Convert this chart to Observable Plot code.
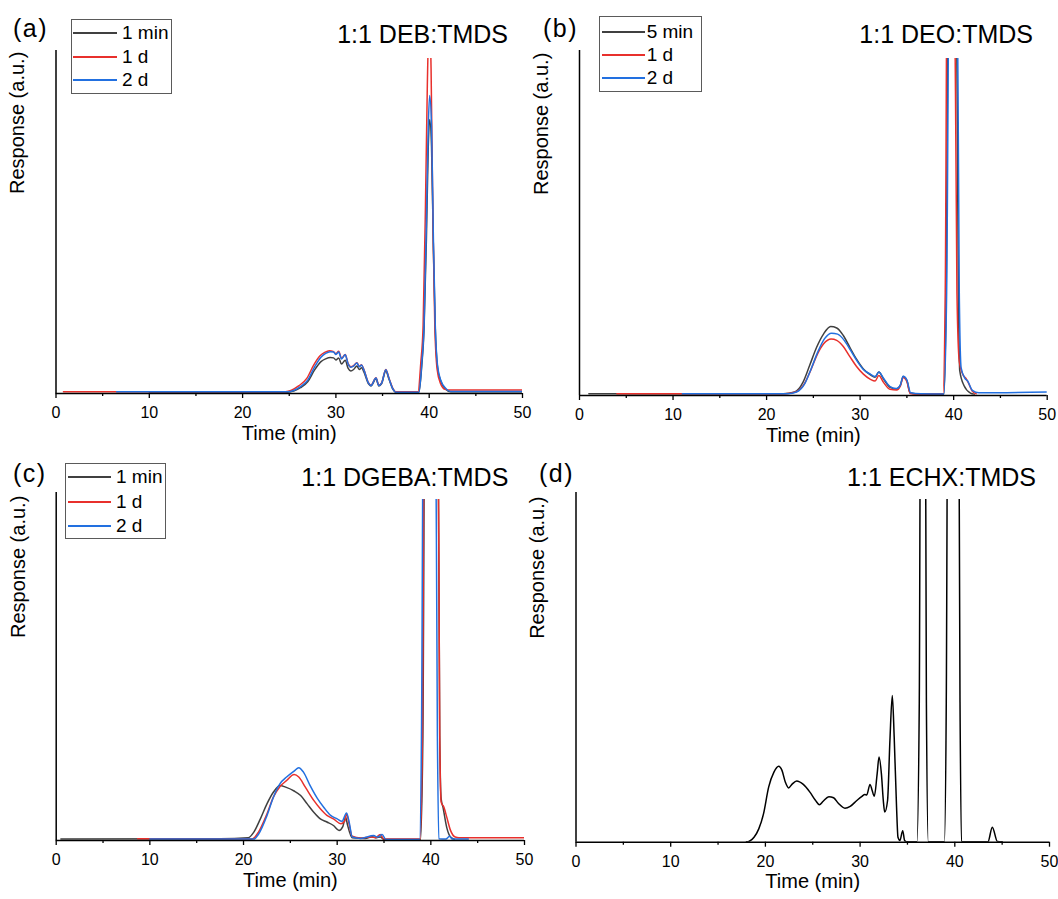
<!DOCTYPE html>
<html><head><meta charset="utf-8">
<script src="https://cdn.jsdelivr.net/npm/d3@7"></script>
<script src="https://cdn.jsdelivr.net/npm/@observablehq/plot@0.6"></script>
<style>
body{margin:0;background:#fff;font-family:"Liberation Sans",Arial,sans-serif;}
#root{position:relative;width:1058px;height:899px;overflow:hidden;background:#fff;}
.panel{position:absolute;}
.lab{position:absolute;white-space:nowrap;line-height:1;color:#000;}
.legbox{position:absolute;border:1px solid #5a5a5a;box-sizing:border-box;background:#fff;}
.sw{position:absolute;height:2px;}
</style></head><body><div id="root"></div>
<script>
// ---- tick values ----
const majorTicks = [0, 10, 20, 30, 40, 50];
const minorTicks = [5, 15, 25, 35, 45];

// ---- panel texts ----
const panelLetters = ["(a)", "(b)", "(c)", "(d)"];
const panelTitles = ["1:1 DEB:TMDS", "1:1 DEO:TMDS", "1:1 DGEBA:TMDS", "1:1 ECHX:TMDS"];
const legendA = ["1 min", "1 d", "2 d"];
const legendB = ["5 min", "1 d", "2 d"];
const legendC = ["1 min", "1 d", "2 d"];
const xTitle = "Time (min)";
const yTitle = "Response (a.u.)";
const seriesColors = ["#404040", "#e8302c", "#2270e0"];

// ---- (a) 1:1 DEB:TMDS  [time (min), relative response] ----
const debMin1 = [[10,0.004],[24.8,0.004],[26.2,0.017],[27,0.035],[27.7,0.068],[28.4,0.093],[28.9,0.101],[29.4,0.105],[29.75,0.104],[30.0,0.098],[30.3,0.104],[30.6,0.086],[31.0,0.097],[31.3,0.074],[31.6,0.066],[31.9,0.07],[32.25,0.08],[32.5,0.07],[32.75,0.075],[33.0,0.063],[33.5,0.028],[33.75,0.022],[34.3,0.043],[34.6,0.022],[34.9,0.029],[35.35,0.066],[35.7,0.041],[36.1,0.013],[36.4,0.004],[38.9,0.004],[39.2,0.08],[39.45,0.19],[39.7,0.45],[39.9,0.72],[40.05,0.8],[40.25,0.72],[40.45,0.42],[40.65,0.19],[40.9,0.075],[41.25,0.035],[41.8,0.012],[42.3,0.005],[50,0.005]];
const debDay1 = [[0.8,0.005],[24.6,0.005],[26.0,0.022],[26.9,0.045],[27.6,0.082],[28.3,0.11],[28.8,0.12],[29.3,0.125],[29.7,0.123],[30.0,0.116],[30.3,0.123],[30.6,0.103],[31.0,0.114],[31.3,0.088],[31.6,0.078],[31.9,0.081],[32.25,0.09],[32.5,0.079],[32.75,0.084],[33.0,0.07],[33.5,0.031],[33.75,0.024],[34.3,0.046],[34.6,0.024],[34.9,0.031],[35.35,0.07],[35.7,0.044],[36.1,0.015],[36.4,0.005],[38.8,0.005],[39.1,0.09],[39.35,0.2],[39.6,0.55],[39.8,0.9],[40.0,1.1],[40.2,0.95],[40.4,0.5],[40.6,0.2],[40.85,0.07],[41.2,0.03],[41.7,0.012],[42.2,0.01],[50,0.01]];
const debDay2 = [[6.5,0.005],[24.8,0.005],[26.2,0.02],[27,0.04],[27.7,0.077],[28.4,0.106],[28.9,0.117],[29.4,0.122],[29.75,0.121],[30.0,0.114],[30.3,0.121],[30.6,0.101],[31.0,0.113],[31.3,0.087],[31.6,0.077],[31.9,0.08],[32.25,0.089],[32.5,0.078],[32.75,0.083],[33.0,0.069],[33.5,0.03],[33.75,0.023],[34.3,0.045],[34.6,0.023],[34.9,0.03],[35.35,0.069],[35.7,0.043],[36.1,0.014],[36.4,0.004],[38.9,0.004],[39.2,0.087],[39.45,0.2],[39.7,0.5],[39.9,0.78],[40.05,0.87],[40.25,0.78],[40.45,0.45],[40.65,0.2],[40.9,0.08],[41.25,0.038],[41.8,0.014],[42.3,0.006],[50,0.006]];

// ---- (b) 1:1 DEO:TMDS ----
const deoMin5 = [[1,0.005],[21.8,0.005],[23.0,0.01],[23.9,0.039],[24.6,0.087],[25.35,0.14],[26.1,0.179],[26.85,0.2],[27.5,0.196],[28.2,0.174],[28.9,0.14],[29.6,0.106],[30.35,0.077],[31.1,0.06],[31.6,0.053],[32.0,0.068],[32.5,0.048],[33.2,0.024],[33.9,0.019],[34.3,0.03],[34.6,0.055],[35.0,0.043],[35.35,0.007],[36.4,0.004],[38.95,0.004],[39.2,0.3],[39.5,1.5],[40.2,1.5],[40.5,0.3],[40.65,0.072],[41.1,0.029],[41.8,0.007],[42.2,0.004]];
const deoDay1 = [[4,0.005],[22,0.005],[23.1,0.01],[24.0,0.032],[24.7,0.072],[25.4,0.118],[26.1,0.15],[26.9,0.164],[27.5,0.16],[28.2,0.142],[28.9,0.113],[29.6,0.085],[30.35,0.062],[31.1,0.047],[31.6,0.042],[32.0,0.058],[32.5,0.038],[33.2,0.018],[33.9,0.016],[34.3,0.027],[34.6,0.052],[35.0,0.04],[35.35,0.006],[36.0,0.004],[38.85,0.004],[39.1,0.3],[39.35,1.5],[40.0,1.5],[40.35,0.3],[40.6,0.1],[41.0,0.06],[41.3,0.05],[41.6,0.035],[42.0,0.012],[42.4,0.005]];
const deoDay2 = [[11,0.005],[22.3,0.005],[23.2,0.01],[24.1,0.035],[24.8,0.08],[25.5,0.128],[26.2,0.165],[26.95,0.181],[27.6,0.178],[28.3,0.16],[29.0,0.13],[29.7,0.099],[30.4,0.074],[31.1,0.062],[31.6,0.055],[32.0,0.068],[32.5,0.05],[33.2,0.026],[33.9,0.02],[34.3,0.03],[34.6,0.056],[35.0,0.045],[35.4,0.008],[36.5,0.005],[38.95,0.004],[39.25,0.3],[39.6,1.5],[40.3,1.5],[40.6,0.3],[40.8,0.08],[41.2,0.05],[41.5,0.042],[42.0,0.015],[42.7,0.008],[50,0.01]];

// ---- (c) 1:1 DGEBA:TMDS ----
const dgebaMin1 = [[0.5,0.004],[17.5,0.005],[20.5,0.008],[21.1,0.024],[21.8,0.062],[22.5,0.105],[23.2,0.139],[23.9,0.158],[24.5,0.153],[25.4,0.142],[26.1,0.129],[26.8,0.105],[27.5,0.081],[28.2,0.062],[28.9,0.053],[29.6,0.043],[30.2,0.029],[30.6,0.04],[30.9,0.067],[31.1,0.045],[31.6,0.008],[33.0,0.006],[33.75,0.011],[34.2,0.008],[34.6,0.01],[35.0,0.003],[38.9,0.003],[39.15,0.3],[39.4,1.5],[40.7,1.5],[40.95,0.3],[41.1,0.12],[41.3,0.095],[41.7,0.037],[42.1,0.01],[42.5,0.004]];
const dgebaDay1 = [[8.7,0.005],[20.9,0.004],[21.6,0.024],[22.5,0.076],[23.2,0.125],[23.9,0.155],[24.6,0.172],[25.4,0.189],[25.9,0.182],[26.6,0.153],[27.5,0.115],[28.2,0.091],[28.9,0.072],[29.6,0.062],[30.4,0.048],[30.8,0.055],[31.0,0.077],[31.25,0.05],[31.6,0.012],[32.5,0.007],[33.6,0.01],[34.1,0.008],[34.6,0.017],[35.0,0.004],[38.85,0.004],[39.1,0.3],[39.35,1.5],[40.7,1.5],[40.95,0.3],[41.1,0.11],[41.4,0.095],[41.7,0.067],[42.1,0.029],[42.6,0.01],[43,0.008],[50,0.008]];
const dgebaDay2 = [[10,0.004],[21.1,0.004],[21.6,0.018],[22.5,0.071],[23.2,0.125],[23.9,0.163],[24.6,0.182],[25.4,0.199],[25.9,0.209],[26.4,0.196],[27.1,0.158],[27.9,0.12],[28.6,0.094],[29.3,0.072],[30.0,0.062],[30.5,0.055],[31.0,0.079],[31.3,0.05],[31.6,0.01],[32.5,0.006],[33.9,0.014],[34.3,0.01],[34.8,0.017],[35.2,0.003],[38.8,0.003],[39.0,0.3],[39.25,1.5],[40.45,1.5],[40.7,0.3],[40.85,0.005],[41.6,0.004],[42.0,0.012],[42.3,0.004],[44,0.004]];

// ---- (d) 1:1 ECHX:TMDS ----
const echx = [[18.0,0.001],[18.25,0.002],[18.8,0.014],[19.3,0.038],[19.8,0.081],[20.35,0.158],[20.9,0.2],[21.4,0.217],[21.75,0.205],[22.1,0.172],[22.45,0.155],[22.8,0.165],[23.3,0.175],[24.0,0.165],[24.7,0.143],[25.3,0.119],[25.7,0.107],[26.1,0.117],[26.7,0.13],[27.2,0.127],[27.7,0.111],[28.4,0.097],[28.95,0.102],[29.65,0.119],[30.2,0.131],[30.5,0.136],[30.7,0.135],[31.05,0.165],[31.25,0.15],[31.5,0.131],[31.8,0.195],[32.0,0.243],[32.25,0.195],[32.45,0.119],[32.6,0.086],[32.9,0.119],[33.15,0.291],[33.4,0.419],[33.6,0.3],[33.85,0.1],[34.0,0.014],[34.2,0.005],[34.5,0.033],[34.7,0.005],[34.9,0.001],[36.0,0.001],[36.25,0.4],[36.45,2],[36.8,2],[37.0,0.4],[37.2,0.001],[38.9,0.001],[39.1,0.4],[39.35,2],[40.3,2],[40.55,0.4],[40.7,0.001],[43.5,0.001],[43.96,0.043],[44.5,0.002],[45,0.001]];

// ---- layout (positions only) ----
const FONT = '"Liberation Sans", Arial, sans-serif';
const layouts = [
  {left:0,   top:0,   w:529, h:450, mt:58, mr:7,    mb:57,   ml:55.5, inset:-8},
  {left:529, top:0,   w:529, h:450, mt:58, mr:11.3, mb:55,   ml:50,   inset:-8},
  {left:0,   top:445, w:529, h:454, mt:54, mr:5,    mb:59,   ml:55.7, inset:-7},
  {left:529, top:445, w:529, h:454, mt:54, mr:9,    mb:57.3, ml:46.5, inset:-7}
];
const panelSeries = [
  [debMin1, debDay1, debDay2],
  [deoMin5, deoDay1, deoDay2],
  [dgebaMin1, dgebaDay1, dgebaDay2],
  [echx]
];

const root = document.getElementById("root");

function makePanel(i) {
  const L = layouts[i];
  const series = panelSeries[i];
  const colors = series.length === 1 ? ["#000"] : seriesColors;
  const marks = [
    ...series.map((data, k) => Plot.line(data, {
      x: d => d[0], y: d => d[1], stroke: colors[k], strokeWidth: 1.5,
      curve: "monotone-x", clip: true
    })),
    Plot.ruleX([0], {stroke: "#000", strokeWidth: 1.5, insetTop: L.inset}),
    Plot.ruleY([0], {stroke: "#000", strokeWidth: 1.5}),
    Plot.axisX({ticks: majorTicks, tickSize: 5, tickPadding: 8, label: null, strokeWidth: 1.3}),
    Plot.axisX({ticks: minorTicks, tickSize: 3, tickFormat: () => "", label: null, strokeWidth: 1.3}),
    Plot.text([xTitle], {text: d => d, frameAnchor: "bottom", dy: 46, fontSize: 20}),
    Plot.text([yTitle], {text: d => d, frameAnchor: "left", dx: -38, dy: -32, rotate: -90, fontSize: 20})
  ];
  const svg = Plot.plot({
    width: L.w, height: L.h,
    marginTop: L.mt, marginRight: L.mr, marginBottom: L.mb, marginLeft: L.ml,
    x: {domain: [0, 50]},
    y: {domain: [0, 0.978], axis: null},
    style: {fontFamily: FONT, fontSize: "16px", color: "#000", background: "transparent", overflow: "visible"},
    marks
  });
  const wrap = document.createElement("div");
  wrap.className = "panel";
  wrap.style.left = L.left + "px";
  wrap.style.top = L.top + "px";
  wrap.appendChild(svg);
  root.appendChild(wrap);
}
for (let i = 0; i < 4; i++) makePanel(i);

function addText(txt, css) {
  const d = document.createElement("div");
  d.className = "lab";
  d.textContent = txt;
  Object.assign(d.style, css);
  root.appendChild(d);
  return d;
}
// panel letters
const letterPos = [[13, 16.2], [543, 15.5], [13, 461.2], [539, 461.2]];
panelLetters.forEach((t, i) => addText(t, {left: letterPos[i][0] + "px", top: letterPos[i][1] + "px", fontSize: "25px", letterSpacing: "1.5px"}));
// titles (right aligned)
const titlePos = [[550, 22.2], [25, 21.6], [549.7, 464.6], [22, 464.6]];
panelTitles.forEach((t, i) => addText(t, {right: titlePos[i][0] + "px", top: titlePos[i][1] + "px", fontSize: "25px"}));

// legends
const legendBoxes = [
  {x: 71, y: 18.7, w: 101, h: 75.3, lx1: 73, lx2: 117, tx: 122, rows: [33.3, 57.3, 80], names: legendA},
  {x: 599.3, y: 16, w: 102.4, h: 75.7, lx1: 601.7, lx2: 645, tx: 646.7, rows: [31.7, 55, 78.3], names: legendB},
  {x: 65.3, y: 463.3, w: 100.7, h: 75.7, lx1: 67.7, lx2: 111, tx: 116, rows: [476.7, 501.7, 526], names: legendC}
];
legendBoxes.forEach(b => {
  const box = document.createElement("div");
  box.className = "legbox";
  Object.assign(box.style, {left: b.x + "px", top: b.y + "px", width: b.w + "px", height: b.h + "px"});
  root.appendChild(box);
  b.names.forEach((n, k) => {
    const sw = document.createElement("div");
    sw.className = "sw";
    Object.assign(sw.style, {left: b.lx1 + "px", top: (b.rows[k] - 1) + "px", width: (b.lx2 - b.lx1) + "px", background: seriesColors[k]});
    root.appendChild(sw);
    addText(n, {left: b.tx + "px", top: (b.rows[k] - 10) + "px", fontSize: "19px"});
  });
});
</script></body></html>
